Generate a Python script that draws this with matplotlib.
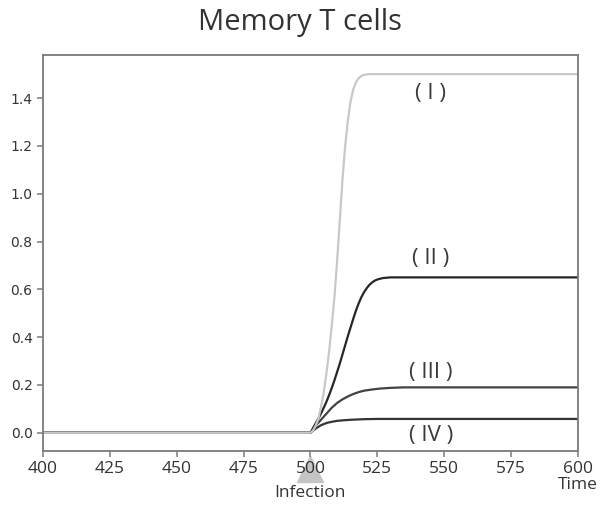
import numpy as np
import matplotlib
matplotlib.use("Agg")
import matplotlib.pyplot as plt

# (I) highest response
t_1 = [400, 500, 501, 502, 503, 504, 505, 506, 507, 508, 509, 510, 511, 512,
       513, 514, 515, 516, 517, 518, 519, 520, 522, 600]
v_1 = [0, 0, 0.01, 0.03, 0.06, 0.11, 0.17, 0.25, 0.34, 0.45, 0.57, 0.72, 0.89,
       1.06, 1.20, 1.305, 1.385, 1.435, 1.465, 1.482, 1.492, 1.497, 1.5, 1.5]

# (II)
t_2 = [400, 500, 501, 502, 503, 504, 505, 506, 507, 508, 509, 510, 511, 512,
       513, 514, 515, 516, 517, 518, 519, 520, 521, 522, 523, 524, 525, 527,
       530, 600]
v_2 = [0, 0, 0.02, 0.04, 0.06, 0.082, 0.105, 0.13, 0.158, 0.188, 0.22, 0.255,
       0.29, 0.328, 0.366, 0.404, 0.44, 0.476, 0.51, 0.54, 0.566, 0.587, 0.604,
       0.618, 0.628, 0.636, 0.641, 0.647, 0.65, 0.65]

# (III)
t_3 = [400, 500, 502, 504, 506, 508, 510, 512, 514, 516, 518, 520, 523, 526,
       530, 535, 600]
v_3 = [0, 0, 0.03, 0.055, 0.08, 0.105, 0.125, 0.14, 0.152, 0.162, 0.17,
       0.176, 0.181, 0.185, 0.188, 0.19, 0.19]

# (IV)
t_4 = [400, 500, 502, 504, 506, 508, 510, 513, 516, 520, 525, 530, 600]
v_4 = [0, 0, 0.018, 0.032, 0.041, 0.046, 0.05, 0.053, 0.055, 0.057, 0.058,
       0.058, 0.058]

labels = ["( I )", "( II )", "( III )", "( IV )"]
label_y = [1.42, 0.73, 0.254, -0.01]
label_x = 545

xticks = [400, 425, 450, 475, 500, 525, 550, 575, 600]
yticks = [0.0, 0.2, 0.4, 0.6, 0.8, 1.0, 1.2, 1.4]

txt = "#333333"
spine_c = "#7a7a7a"

fig = plt.figure(figsize=(6, 5.07), dpi=100)
ax = fig.add_axes([0.0717, 0.1105, 0.8913, 0.781])

ax.plot(t_4, v_4, color="#353535", lw=1.6, solid_capstyle="round")
ax.plot(t_3, v_3, color="#424242", lw=1.6, solid_capstyle="round")
ax.plot(t_2, v_2, color="#262626", lw=1.6, solid_capstyle="round")
ax.plot(t_1, v_1, color="#c8c8c8", lw=1.6, solid_capstyle="round")

for lab, ly in zip(labels, label_y):
    ax.text(label_x, ly, lab, ha="center", va="center", fontsize=16,
            family="Open Sans", color="#3a3a3a")

ax.set_xlim(400, 600)
ax.set_ylim(-0.076, 1.58)
ax.set_xticks(xticks)
ax.set_xticklabels([str(x) for x in xticks], family="Open Sans", fontsize=12.5,
                   color=txt)
ax.set_yticks(yticks)
ax.set_yticklabels(["%.1f" % y for y in yticks], fontsize=10, color=txt)
ax.tick_params(axis="both", colors=spine_c, labelcolor=txt, width=1.1, length=4)
for s in ax.spines.values():
    s.set_color(spine_c)
    s.set_linewidth(1.3)

# infection marker under the x axis
trans = matplotlib.transforms.blended_transform_factory(ax.transData, ax.transAxes)
ax.plot([500], [-0.045], marker="^", markersize=19, color="#c4c4c4",
        transform=trans, clip_on=False, zorder=1)
ax.text(500, -0.107, "Infection", transform=trans, ha="center", va="center",
        family="Open Sans", fontsize=12.5, color=txt)
ax.text(600, -0.085, "Time", transform=trans, ha="center", va="center",
        family="Open Sans", fontsize=12.5, color=txt)

fig.text(0.5, 0.955, "Memory T cells", ha="center", va="center",
         family="Open Sans", fontsize=21, color=txt)

fig.savefig("out.png", dpi=100)
